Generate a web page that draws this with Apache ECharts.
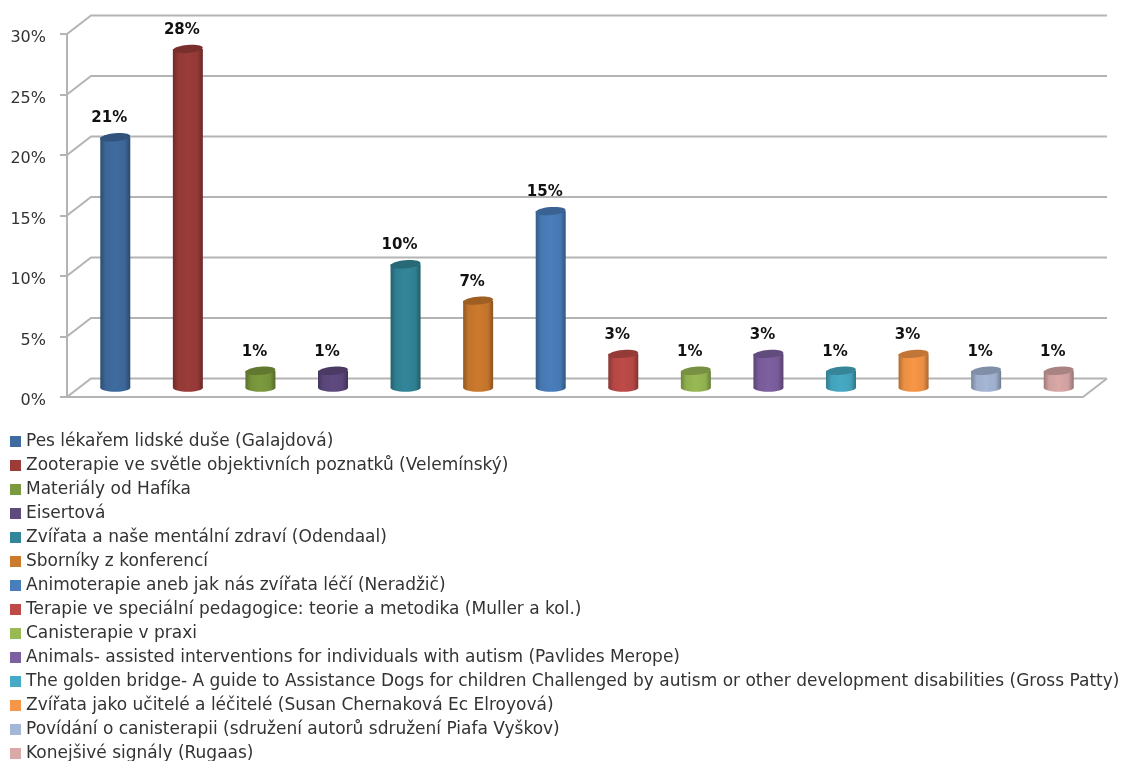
<!DOCTYPE html>
<html><head><meta charset="utf-8">
<style>html,body{margin:0;padding:0;background:#fff}#c{width:1124px;height:761px}#c canvas{filter:blur(0.4px)}</style>
<script src="https://cdn.jsdelivr.net/npm/echarts@6/dist/echarts.min.js"></script>
</head><body><div id="c"></div>
<script>
const categories = ["Pes lékařem lidské duše (Galajdová)","Zooterapie ve světle objektivních poznatků (Velemínský)","Materiály od Hafíka","Eisertová","Zvířata a naše mentální zdraví (Odendaal)","Sborníky z konferencí","Animoterapie aneb jak nás zvířata léčí (Neradžič)","Terapie ve speciální pedagogice: teorie a metodika (Muller a kol.)","Canisterapie v praxi","Animals- assisted interventions for individuals with autism (Pavlides Merope)","The golden bridge- A guide to Assistance Dogs for children Challenged by autism or other development disabilities (Gross Patty)","Zvířata jako učitelé a léčitelé (Susan Chernaková Ec Elroyová)","Povídání o canisterapii (sdružení autorů sdružení Piafa Vyškov)","Konejšivé signály (Rugaas)"];
const values = [20.7,28.0,1.4,1.4,10.2,7.2,14.6,2.8,1.4,2.8,1.4,2.8,1.4,1.4];
const valueLabels = ["21%","28%","1%","1%","10%","7%","15%","3%","1%","3%","1%","3%","1%","1%"];
const colors = ["#3F6B9F","#9B3C39","#7B9A3D","#5F4A80","#338699","#CC7A2D","#4A7EBB","#BE4B48","#98B954","#7D60A0","#46AAC4","#F79646","#A5B6D6","#D9A8A7"];
const yTicks = [0,5,10,15,20,25,30];
const wallColor = "#b4b4b4";
const depthX = 24, depthY = 18.5, radX = 15, radY = 4;

function shade(hex, f){
  const n = parseInt(hex.slice(1),16);
  const c = s => Math.round(((n>>s)&255)*f);
  return `rgb(${c(16)},${c(8)},${c(0)})`;
}
function bodyFill(col){
  return {type:'linear',x:0,y:0,x2:1,y2:0,colorStops:[
    {offset:0,color:shade(col,0.72)},{offset:0.18,color:shade(col,0.95)},
    {offset:0.5,color:col},{offset:0.82,color:shade(col,0.95)},{offset:1,color:shade(col,0.68)}]};
}
function cylinder(col, text){
  return function(params, api){
    const p = api.coord([api.value(0), api.value(1)]);
    const b = api.coord([api.value(0), 0]);
    const cx = p[0] + depthX/2, top = p[1] - depthY/2, base = b[1] - depthY/2;
    return {type:'group',children:[
      {type:'ellipse',shape:{cx:cx,cy:base,rx:radX,ry:radY},style:{fill:bodyFill(col)}},
      {type:'rect',shape:{x:cx-radX,y:top,width:radX*2,height:base-top},style:{fill:bodyFill(col)}},
      {type:'ellipse',originX:cx,originY:top,rotation:0.09,shape:{cx:cx,cy:top,rx:radX,ry:radY},style:{fill:shade(col,0.78)}},
      {type:'text',style:{text:text,x:cx-6,y:top-19,align:'center',verticalAlign:'middle',
        font:'bold 15px "DejaVu Sans"',fill:'#111'}}
    ]};
  };
}
function wall(params, api){
  const p = api.coord([0, api.value(0)]);
  const cs = params.coordSys;
  const x0 = cs.x, x1 = cs.x + cs.width, y = p[1];
  const kids = [{type:'polyline',shape:{points:[[x0,y],[x0+depthX,y-depthY],[x1+depthX,y-depthY]]},
    style:{stroke:wallColor,lineWidth:2,fill:'none'}}];
  if(api.value(0)===0) kids.push({type:'line',shape:{x1:x1,y1:y,x2:x1+depthX,y2:y-depthY},style:{stroke:wallColor,lineWidth:2}});
  return {type:'group',children:kids};
}
const series = [{type:'custom',name:'wall',silent:true,z:1,coordinateSystem:'cartesian2d',renderItem:wall,
  data:yTicks.map(v=>[v]),encode:{y:0},clip:false}];
categories.forEach((name,i)=>{
  series.push({type:'custom',name:name,z:3,coordinateSystem:'cartesian2d',clip:false,
    itemStyle:{color:colors[i]},renderItem:cylinder(colors[i],valueLabels[i]),
    data:[[i,values[i]]],encode:{x:0,y:1}});
});
const chart = echarts.init(document.getElementById('c'),null,{renderer:'canvas'});
chart.setOption({
  animation:false,backgroundColor:'#fff',
  grid:{left:67,right:41,top:34,bottom:364},
  xAxis:{type:'category',data:categories,axisLabel:{show:false},axisTick:{show:false},
    axisLine:{lineStyle:{color:wallColor,width:2}}},
  yAxis:{type:'value',min:0,max:30,interval:5,splitLine:{show:false},
    axisLine:{show:true,lineStyle:{color:wallColor,width:2}},
    axisTick:{show:true,length:7,lineStyle:{color:wallColor,width:2}},
    axisLabel:{formatter:'{a|{value}%}',margin:21,
      rich:{a:{fontFamily:'DejaVu Sans',fontSize:16,color:'#333',padding:[8,0,0,0]}}}},
  legend:{orient:'vertical',left:10,top:433,padding:0,width:1114,height:340,itemWidth:11,itemHeight:11,itemGap:7,icon:'rect',
    selectedMode:false,data:categories,
    textStyle:{fontFamily:'DejaVu Sans',fontSize:17,color:'#333',padding:[3,0,0,0],lineHeight:17,height:14}},
  series:series
});
</script></body></html>
